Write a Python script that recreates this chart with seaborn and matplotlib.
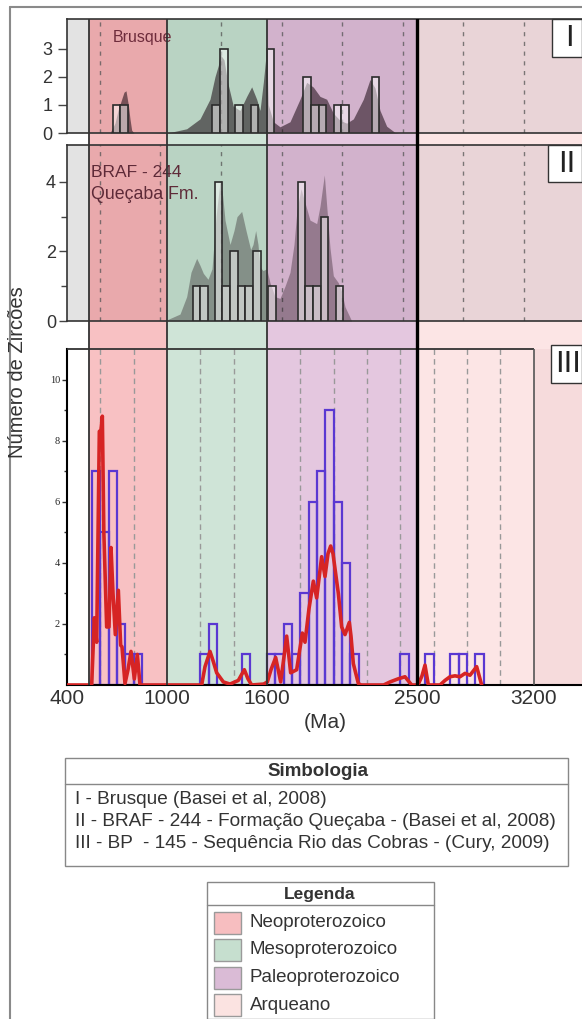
import numpy as np
import pandas as pd
import matplotlib
matplotlib.use('Agg')
import matplotlib.pyplot as plt
from matplotlib.patches import Rectangle
from matplotlib.lines import Line2D
import seaborn as sns

sns.set_style('white')
plt.rcParams['font.family'] = ['Liberation Sans', 'DejaVu Sans']

# ---------------- data ----------------
era_names = ['Neoproterozoico', 'Mesoproterozoico', 'Paleoproterozoico', 'Arqueano']
era_start = [530, 1000, 1600, 2500]
era_end = [1000, 1600, 2500, 3490]
x_ticks = [400, 1000, 1600, 2500, 3200]
x_min, x_max = 400, 3490
frame3_right = 3200

# Panel I - Brusque
p1_bar_left = [674, 720, 1272, 1318, 1408, 1502, 1598, 1818, 1864, 1910, 2000, 2046, 2228]
p1_bar_height = [1, 1, 1, 3, 1, 1, 3, 2, 1, 1, 1, 1, 2]
p1_kde_ma = [600, 658, 688, 706, 728, 742, 754, 768, 778, 788, 802, 898, 1018, 1118, 1198, 1258,
             1288, 1308, 1318, 1342, 1364, 1398, 1438, 1478, 1508, 1538, 1558, 1578, 1598, 1608,
             1638, 1678, 1738, 1798, 1838, 1878, 1918, 1958, 1998, 2038, 2078, 2118, 2178, 2218,
             2248, 2278, 2318, 2368, 2398]
p1_kde_val = [0, 0, 0.35, 0.8, 1.2, 1.45, 1.5, 1.0, 0.5, 0.1, 0, 0, 0.02, 0.15, 0.5, 1.2,
              2.0, 2.4, 2.8, 2.6, 1.8, 0.95, 0.8, 1.3, 1.64, 1.2, 0.8, 1.8, 3.0, 1.0,
              0.4, 0.22, 0.4, 1.2, 1.8, 1.63, 1.3, 1.2, 0.7, 0.45, 0.35, 0.5, 1.2, 1.9,
              1.6, 0.8, 0.24, 0.02, 0]

# Panel II - BRAF-244
p2_bar_left = [1154, 1198, 1286, 1332, 1378, 1424, 1470, 1516, 1608, 1784, 1830, 1876, 1922, 2012]
p2_bar_height = [1, 1, 4, 1, 2, 1, 1, 2, 1, 4, 1, 1, 3, 1]
p2_kde_ma = [950, 998, 1078, 1118, 1144, 1178, 1198, 1218, 1246, 1270, 1294, 1318, 1334, 1348,
             1378, 1402, 1420, 1448, 1474, 1502, 1516, 1532, 1546, 1558, 1576, 1598, 1618, 1648,
             1678, 1708, 1738, 1762, 1780, 1804, 1828, 1858, 1898, 1918, 1944, 1960, 1978, 1998,
             2028, 2050, 2068, 2108]
p2_kde_val = [0, 0.03, 0.2, 0.7, 1.4, 1.8, 1.6, 1.37, 1.2, 1.5, 3.0, 4.0, 3.6, 2.9,
              2.2, 2.6, 3.0, 3.15, 2.6, 2.05, 2.2, 2.6, 2.2, 1.55, 1.45, 1.5, 1.1, 0.7,
              0.65, 1.0, 1.4, 2.2, 3.2, 3.8, 3.4, 2.9, 2.8, 3.3, 4.2, 3.2, 2.1, 1.3,
              1.1, 0.8, 0.41, 0]

# Panel III - BP-145 (50 Ma bins)
p3_bin_start = [550, 600, 650, 700, 750, 800, 1200, 1250, 1450, 1600, 1650, 1700, 1750, 1800,
                1850, 1900, 1950, 2000, 2050, 2100, 2400, 2550, 2700, 2750, 2850]
p3_count = [7, 5, 7, 2, 1, 1, 1, 2, 1, 1, 1, 2, 1, 3, 6, 7, 9, 6, 4, 1, 1, 1, 1, 1, 1]
p3_kde_ma = [400, 540, 548, 564, 578, 594, 604, 612, 621, 638, 652, 664, 676, 690, 708, 722,
             730, 748, 766, 784, 804, 822, 838, 1200, 1208, 1228, 1258, 1276, 1298, 1338, 1378,
             1428, 1464, 1486, 1508, 1580, 1602, 1624, 1652, 1682, 1699, 1718, 1742, 1778, 1812,
             1828, 1852, 1878, 1898, 1928, 1948, 1966, 1982, 1996, 2018, 2028, 2048, 2068, 2094,
             2104, 2118, 2148, 2164, 2300, 2338, 2386, 2428, 2468, 2506, 2530, 2548, 2568, 2638,
             2668, 2698, 2728, 2758, 2788, 2818, 2858, 2888]
p3_kde_val = [0, 0, 0, 2.2, 1.4, 8.3, 8.35, 8.8, 5.0, 1.9, 1.9, 4.5, 3.0, 1.65, 3.1, 1.3,
              1.25, 0.05, 0.5, 1.1, 0.2, 1.0, 0, 0, 0, 0.6, 1.1, 0.8, 0.4, 0.1, 0.03,
              0.15, 0.5, 0.2, 0, 0.03, 0.1, 0.5, 0.9, 0.1, 0.8, 1.6, 0.4, 0.5, 1.7,
              1.4, 2.5, 3.4, 2.85, 4.2, 3.55, 4.3, 4.55, 4.3, 3.4, 3.0, 1.9, 1.65, 2.05,
              1.6, 0.7, 0.05, 0, 0, 0.1, 0.2, 0.27, 0, 0, 0.3, 0.65, 0, 0,
              0.15, 0.27, 0.3, 0.27, 0.38, 0.32, 0.6, 0]

p1_grid = [598, 1324, 1690, 2050, 2416, 2776, 3142]
p2_grid = [598, 958, 1324, 1690, 2050, 2416, 2776, 3142]
p3_grid = [600, 800, 1200, 1400, 1800, 2000, 2200, 2400, 2600, 2800, 3000]

simbologia = ['I - Brusque (Basei et al, 2008)',
              'II - BRAF - 244 - Formação Queçaba - (Basei et al, 2008)',
              'III - BP  - 145 - Sequência Rio das Cobras - (Cury, 2009)']

# ---------------- style ----------------
band_dark = ['#e9a9ac', '#b9d3c3', '#d2b2cc', '#e9d4d7']
band_light = ['#f8c1c3', '#cfe4d7', '#e4c7df', '#fce5e5']
legend_cols = ['#f7bec0', '#c6dfcf', '#dabbd6', '#fbe3e1']
pre_gray = '#e3e3e3'

W, H = 582, 1019
fig = plt.figure(figsize=(W / 100, H / 100), dpi=100)


def fax(x0, y0, x1, y1, z=1):
    return fig.add_axes([x0 / W, 1 - y1 / H, (x1 - x0) / W, (y1 - y0) / H], zorder=z)


# background bands
bg = fax(67, 19, 582, 685, z=0)
bg.set_xlim(x_min, x_max)
bg.set_ylim(0, 1)
bg.axis('off')
for s, e, c in zip(era_start, era_end, band_light):
    bg.axvspan(s, e, color=c, lw=0)

ax1 = fax(67, 19, 582, 133)
ax2 = fax(67, 145, 582, 321)
ax3 = fax(67, 349, 582, 685)

for ax, bl, bh, km, kv, ymax, shade_alpha, grid in [
        (ax1, p1_bar_left, p1_bar_height, p1_kde_ma, p1_kde_val, 4.05, 0.55, p1_grid),
        (ax2, p2_bar_left, p2_bar_height, p2_kde_ma, p2_kde_val, 5.06, 0.33, p2_grid)]:
    ax.set_xlim(x_min, x_max)
    ax.set_ylim(0, ymax)
    ax.axvspan(x_min, era_start[0], color=pre_gray, lw=0)
    for s, e, c in zip(era_start, era_end, band_dark):
        ax.axvspan(s, e, color=c, lw=0)
    for g in grid:
        ax.axvline(g, color='#555555', lw=1.0, ls=(0, (3, 4)), alpha=0.75, zorder=1)
    ax.fill_between(km, kv, color='#1a0a12', alpha=shade_alpha, lw=0, zorder=2)
    ax.bar(bl, bh, width=46, align='edge', facecolor=(1, 1, 1, 0.5),
           edgecolor='#2b2b2b', lw=1.2, zorder=3)
    ax.set_xticks([])
    for sp in ['left', 'top', 'bottom']:
        ax.spines[sp].set_color('#333333')
        ax.spines[sp].set_linewidth(1.2)
    ax.spines['right'].set_visible(False)

ax1.set_yticks([0, 1, 2, 3])
ax1.tick_params(axis='y', length=6.5, width=1, color='#444444', labelsize=13,
                labelcolor='#333333', pad=4, left=True)
ax2.set_yticks([0, 2, 4])
ax2.set_yticks([1, 3], minor=True)
ax2.tick_params(axis='y', which='major', length=6, width=1, color='#444444', labelsize=13,
                labelcolor='#333333', pad=2, left=True)
ax2.tick_params(axis='y', which='minor', length=4.5, width=1, color='#444444', left=True)

ax1.text(856, 3.4, 'Brusque', ha='center', va='center', fontsize=11.5, color='#6e2c3c', zorder=4)
ax2.text(817, 4.28, 'BRAF - 244', ha='center', va='center', fontsize=12.5, color='#5e2a38', zorder=4)
ax2.text(544, 3.65, 'Queçaba Fm.', ha='left', va='center', fontsize=12.8, color='#5e2a38', zorder=4)

# panel III
ax3.set_facecolor('none')
ax3.set_xlim(x_min, x_max)
ax3.set_ylim(0, 11)
ax3.axvspan(frame3_right, x_max, color='#f6dbdc', lw=0, zorder=0)
for g in p3_grid:
    ax3.axvline(g, color='#999999', lw=1.0, ls=(0, (4, 3)), zorder=0.5)
p3_df = pd.DataFrame({'age': np.array(p3_bin_start) + 25, 'n': p3_count})
sns.histplot(data=p3_df, x='age', weights='n', binwidth=50, binrange=(550, 2900),
             fill=False, element='bars',
             color='#5a38d2', linewidth=1.6, ax=ax3, zorder=2)
sns.lineplot(x=p3_kde_ma, y=p3_kde_val, color='#d62424', linewidth=2.6, ax=ax3, zorder=3)
ax3.set_xlabel('')
ax3.set_ylabel('')
for sp in ['top', 'right']:
    ax3.spines[sp].set_visible(False)
ax3.spines['left'].set_color('black')
ax3.spines['left'].set_linewidth(1.5)
ax3.spines['bottom'].set_color('black')
ax3.spines['bottom'].set_linewidth(1.5)
ax3.hlines(11, x_min, frame3_right, color='#333333', lw=1.3, clip_on=False, zorder=4)
ax3.axvline(frame3_right, color='#555555', lw=1.2, zorder=4)
ax3.set_yticks([2, 4, 6, 8, 10])
ax3.set_yticks([1, 3, 5, 7, 9], minor=True)
ax3.tick_params(axis='y', which='major', length=3.6, width=1, color='#333333', labelsize=7.5,
                pad=1.5, left=True)
ax3.tick_params(axis='y', which='minor', length=2.5, width=1, color='#333333', left=True)
for t in ax3.get_yticklabels():
    t.set_fontfamily('Liberation Serif')
ax3.set_xticks(x_ticks)
ax3.tick_params(axis='x', length=0, labelsize=15, labelcolor='#333333', pad=3)

# era boundary lines across all panels
ov = fax(67, 19, 582, 685, z=5)
ov.set_xlim(x_min, x_max)
ov.set_ylim(0, 1)
ov.axis('off')
for s in era_start[:3]:
    ov.axvline(s, color='#333333', lw=1.3)
ov.axvline(era_start[3], color='black', lw=2.4)

# panel label boxes
for (x0, y0, w, h, lab) in [(552, 19, 30, 38, 'I'), (548, 145, 34, 37, 'II'), (551, 345, 31, 38, 'III')]:
    fig.patches.append(Rectangle((x0 / W, 1 - (y0 + h) / H), w / W, h / H, transform=fig.transFigure,
                                 facecolor='white', edgecolor='#333333', lw=1.0, zorder=6))
    fig.text((x0 + w / 2 + 2) / W, 1 - (y0 + h / 2) / H, lab, ha='center', va='center',
             fontsize=21, color='#222222', zorder=7, family='DejaVu Sans')

# outer frame
fig.lines.append(Line2D([10 / W, 10 / W], [1 - 7 / H, 0], transform=fig.transFigure, color='#8a8a8a', lw=1.5))
fig.lines.append(Line2D([10 / W, 1], [1 - 7 / H, 1 - 7 / H], transform=fig.transFigure, color='#8a8a8a', lw=1.5))

fig.text(18 / W, 1 - 372 / H, 'Número de Zircões', rotation=90, ha='center', va='center',
         fontsize=14.5, color='#333333')
fig.text(325 / W, 1 - 722 / H, '(Ma)', ha='center', va='center', fontsize=15, color='#333333')

# Simbologia box
fig.patches.append(Rectangle((65 / W, 1 - 866 / H), (568 - 65) / W, (866 - 758) / H,
                             transform=fig.transFigure, facecolor='white', edgecolor='#888888', lw=1.0))
fig.lines.append(Line2D([65 / W, 568 / W], [1 - 784 / H] * 2, transform=fig.transFigure, color='#888888', lw=1.0))
fig.text(318 / W, 1 - 772 / H, 'Simbologia', ha='center', va='center', fontsize=13.5,
         fontweight='bold', color='#333333')
for i, line in enumerate(simbologia):
    fig.text(75 / W, 1 - (800 + 21.8 * i) / H, line, ha='left', va='center', fontsize=13.7,
             color='#333333')

# Legenda box
fig.patches.append(Rectangle((207 / W, 0), (434 - 207) / W, 1 - 882 / H,
                             transform=fig.transFigure, facecolor='white', edgecolor='#888888', lw=1.0))
fig.lines.append(Line2D([207 / W, 434 / W], [1 - 905 / H] * 2, transform=fig.transFigure, color='#888888', lw=1.0))
fig.text(320 / W, 1 - 894 / H, 'Legenda', ha='center', va='center', fontsize=12.5,
         fontweight='bold', color='#333333')
for i, (name, col) in enumerate(zip(era_names, legend_cols)):
    yc = 922.5 + 27.5 * i
    fig.patches.append(Rectangle((214 / W, 1 - (yc + 11) / H), 27 / W, 22 / H, transform=fig.transFigure,
                                 facecolor=col, edgecolor='#9a9a9a', lw=1.0))
    fig.text(250 / W, 1 - yc / H, name, ha='left', va='center', fontsize=13.5, color='#333333')

fig.savefig('out.png', dpi=100)
